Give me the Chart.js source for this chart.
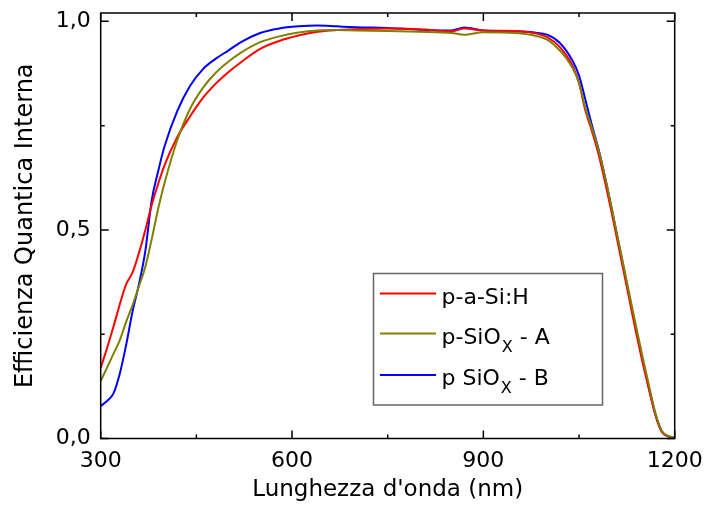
<!DOCTYPE html>
<html>
<head>
<meta charset="utf-8">
<script src="https://cdn.jsdelivr.net/npm/chart.js@4.4.1/dist/chart.umd.min.js"></script>
<style>
  html, body { margin: 0; padding: 0; background: #fff; }
  canvas { display: block; }
</style>
</head>
<body>
<canvas id="iqe" width="705" height="505"></canvas>
<script>
var wavelengths = [300, 310, 320, 330, 340, 350, 360, 370, 380, 390, 400, 420, 440, 460, 480, 500, 520, 550, 580, 610, 640, 670, 700, 750, 800, 850, 870, 900, 950, 980, 1000, 1020, 1040, 1050, 1060, 1070, 1080, 1090, 1100, 1110, 1120, 1130, 1140, 1150, 1160, 1170, 1180, 1190, 1200];

var pASiH = [0.169, 0.217, 0.268, 0.322, 0.370, 0.398, 0.445, 0.500, 0.560, 0.610, 0.655, 0.722, 0.772, 0.816, 0.850, 0.878, 0.902, 0.934, 0.953, 0.966, 0.975, 0.979, 0.981, 0.983, 0.981, 0.976, 0.983, 0.978, 0.977, 0.972, 0.962, 0.938, 0.893, 0.852, 0.786, 0.738, 0.685, 0.620, 0.550, 0.475, 0.400, 0.325, 0.250, 0.180, 0.115, 0.055, 0.015, 0.005, 0.002];

var pSiOxA = [0.138, 0.170, 0.203, 0.236, 0.280, 0.320, 0.365, 0.412, 0.478, 0.550, 0.612, 0.715, 0.790, 0.840, 0.876, 0.903, 0.925, 0.950, 0.964, 0.973, 0.978, 0.979, 0.978, 0.977, 0.975, 0.972, 0.968, 0.974, 0.972, 0.966, 0.956, 0.930, 0.888, 0.852, 0.792, 0.745, 0.695, 0.632, 0.562, 0.487, 0.413, 0.338, 0.265, 0.193, 0.125, 0.060, 0.018, 0.006, 0.002];

var pSiOxB = [0.078, 0.090, 0.108, 0.156, 0.225, 0.305, 0.370, 0.450, 0.571, 0.640, 0.700, 0.785, 0.845, 0.885, 0.910, 0.930, 0.950, 0.972, 0.983, 0.988, 0.990, 0.988, 0.986, 0.984, 0.980, 0.978, 0.985, 0.978, 0.976, 0.973, 0.968, 0.948, 0.905, 0.870, 0.812, 0.752, 0.697, 0.632, 0.560, 0.484, 0.408, 0.332, 0.257, 0.185, 0.118, 0.056, 0.016, 0.005, 0.002];

var seriesNames = ["p-a-Si:H", "p-SiO_X - A", "p SiO_X - B"];
var seriesColors = ["#ff0000", "#808000", "#0000ff"];

var xTicks = [300, 600, 900, 1200];
var xMinor = [450, 750, 1050];
var yTicks = [0, 0.5, 1.0];
var yMinor = [0.25, 0.75];

function toPoints(values) {
  return values.map(function(v, i) {
    return {x: wavelengths[i], y: v};
  });
}

Chart.defaults.font.family = "'DejaVu Sans', sans-serif";
Chart.defaults.color = "#000";

// frame, inward ticks on all four sides and the legend box
var framePlugin = {
  id: "frame",
  afterDraw: function(chart) {
    var ctx = chart.ctx;
    var ca = chart.chartArea;
    var xs = chart.scales.x;
    var ys = chart.scales.y;

    ctx.save();
    ctx.strokeStyle = "#000";
    ctx.lineWidth = 1.5;
    ctx.strokeRect(ca.left, ca.top, ca.right - ca.left, ca.bottom - ca.top);

    function xTick(v, len) {
      var px = xs.getPixelForValue(v);
      ctx.beginPath();
      ctx.moveTo(px, ca.bottom); ctx.lineTo(px, ca.bottom - len);
      ctx.moveTo(px, ca.top); ctx.lineTo(px, ca.top + len);
      ctx.stroke();
    }
    function yTick(v, len) {
      var py = ys.getPixelForValue(v);
      ctx.beginPath();
      ctx.moveTo(ca.left, py); ctx.lineTo(ca.left + len, py);
      ctx.moveTo(ca.right, py); ctx.lineTo(ca.right - len, py);
      ctx.stroke();
    }
    xTicks.forEach(function(v) { xTick(v, 8); });
    xMinor.forEach(function(v) { xTick(v, 4); });
    yTicks.forEach(function(v) { yTick(v, 8); });
    yMinor.forEach(function(v) { yTick(v, 4); });

    // legend
    var boxL = 373.5, boxT = 273.5, boxW = 229, boxH = 131.5;
    ctx.fillStyle = "#fff";
    ctx.fillRect(boxL, boxT, boxW, boxH);
    ctx.strokeStyle = "#666";
    ctx.lineWidth = 1.5;
    ctx.strokeRect(boxL, boxT, boxW, boxH);

    var rowY = [293.5, 333.5, 375];
    ctx.textBaseline = "alphabetic";
    ctx.textAlign = "left";
    seriesNames.forEach(function(name, i) {
      var y = rowY[i];
      ctx.strokeStyle = seriesColors[i];
      ctx.lineWidth = 2;
      ctx.beginPath();
      ctx.moveTo(380, y);
      ctx.lineTo(436, y);
      ctx.stroke();

      ctx.fillStyle = "#000";
      var parts = name.split("_");
      var tx = 441.5;
      var base = y + 10;
      ctx.font = "22px 'DejaVu Sans'";
      ctx.fillText(parts[0], tx, base);
      tx += ctx.measureText(parts[0]).width;
      if (parts.length > 1) {
        var sub = parts[1].charAt(0);
        var rest = parts[1].slice(1);
        ctx.font = "16px 'DejaVu Sans'";
        ctx.fillText(sub, tx + 1, base + 8);
        tx += ctx.measureText(sub).width + 1;
        ctx.font = "22px 'DejaVu Sans'";
        ctx.fillText(rest, tx, base);
      }
    });
    ctx.restore();
  }
};

var ctx = document.getElementById("iqe");

var chart = new Chart(ctx, {
  type: "line",
  data: {
    datasets: [
      {label: seriesNames[0], data: toPoints(pASiH), borderColor: seriesColors[0], order: 1},
      {label: seriesNames[1], data: toPoints(pSiOxA), borderColor: seriesColors[1], order: 0},
      {label: seriesNames[2], data: toPoints(pSiOxB), borderColor: seriesColors[2], order: 2}
    ]
  },
  options: {
    responsive: false,
    animation: false,
    layout: {padding: {left: 0, right: 30.3, top: 13, bottom: 0}},
    elements: {
      point: {radius: 0},
      line: {borderWidth: 2, fill: false, cubicInterpolationMode: "monotone"}
    },
    plugins: {
      legend: {display: false},
      tooltip: {enabled: false}
    },
    scales: {
      x: {
        type: "linear",
        min: 300,
        max: 1200,
        afterBuildTicks: function(scale) {
          scale.ticks = xTicks.map(function(v) { return {value: v}; });
        },
        afterFit: function(scale) {
          scale.height = 66.5;
          scale.paddingLeft = 0;
          scale.paddingRight = 0;
        },
        grid: {display: false, drawTicks: false},
        border: {display: false},
        ticks: {
          padding: 10,
          maxRotation: 0,
          autoSkip: false,
          font: {size: 22},
          callback: function(v) { return String(v); }
        },
        title: {
          display: true,
          text: "Lunghezza d'onda (nm)",
          font: {size: 23},
          padding: {top: 0, bottom: 1}
        }
      },
      y: {
        type: "linear",
        min: 0,
        max: 1.02,
        afterBuildTicks: function(scale) {
          scale.ticks = yTicks.map(function(v) { return {value: v}; });
        },
        afterFit: function(scale) {
          scale.width = 100.7;
          scale.paddingTop = 0;
          scale.paddingBottom = 0;
        },
        grid: {display: false, drawTicks: false},
        border: {display: false},
        ticks: {
          padding: 10,
          font: {size: 22},
          callback: function(v) { return v.toFixed(1).replace(".", ","); }
        },
        title: {
          display: true,
          text: "Efficienza Quantica Interna",
          font: {size: 24},
          padding: {top: 11, bottom: 0}
        }
      }
    }
  },
  plugins: [framePlugin]
});
</script>
</body>
</html>
